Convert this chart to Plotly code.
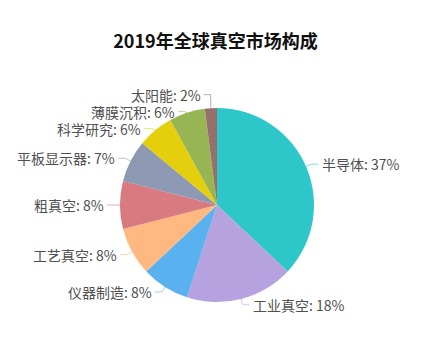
import math
import plotly.graph_objects as go

title_text = "2019年全球真空市场构成"
labels = ["半导体", "工业真空", "仪器制造", "工艺真空", "粗真空", "平板显示器", "科学研究", "薄膜沉积", "太阳能"]
values = [37, 18, 8, 8, 8, 7, 6, 6, 2]
colors = ["#2ec7c9", "#b6a2de", "#5ab1ef", "#ffb980", "#d87a80", "#8d98b3", "#e5cf0d", "#97b552", "#95706d"]

W, H = 431, 354
cx, cy, R = 217, 205, 97
len1, len2, gap, min_gap = 6, 7, 2, 17
FONT = "Noto Sans CJK SC"


def px(x):
    return x / W


def py(y):
    return 1 - y / H


fig = go.Figure(go.Pie(
    labels=labels, values=values, sort=False, direction="clockwise", rotation=0,
    marker=dict(colors=colors, line=dict(width=0)),
    textinfo="none", hoverinfo="label+percent", showlegend=False,
    domain=dict(x=[px(cx - R), px(cx + R)], y=[py(cy + R), py(cy - R)]),
))

total = sum(values)
items = []
cum = 0
for lab, v, c in zip(labels, values, colors):
    mid = (cum + v / 2) / total
    cum += v
    th = 2 * math.pi * mid
    s, co = math.sin(th), math.cos(th)
    p0 = (cx + R * s, cy - R * co)
    p1 = (cx + (R + len1) * s, cy - (R + len1) * co)
    items.append(dict(label=lab, value=v, color=c, p0=p0, p1=p1, right=s >= 0,
                      ly=p1[1], pct=round(100 * v / total)))

# simple overlap relaxation per side
for side in (True, False):
    grp = sorted([it for it in items if it["right"] == side], key=lambda d: d["ly"])
    for _ in range(300):
        moved = False
        for a, b in zip(grp, grp[1:]):
            d = b["ly"] - a["ly"]
            if d < min_gap - 1e-6:
                sh = (min_gap - d) / 2
                a["ly"] -= sh
                b["ly"] += sh
                moved = True
        if not moved:
            break

shapes = []
annotations = []
for it in items:
    x0, y0 = it["p0"]
    x1 = it["p1"][0]
    ly = it["ly"]
    x2 = x1 + (len2 if it["right"] else -len2)
    path = f"M {px(x0)},{py(y0)} L {px(x1)},{py(ly)} L {px(x2)},{py(ly)}"
    shapes.append(dict(type="path", xref="paper", yref="paper", path=path,
                       line=dict(color=it["color"], width=1), opacity=0.6))
    tx = x2 + (gap if it["right"] else -gap)
    annotations.append(dict(
        x=px(tx), y=py(ly), xref="paper", yref="paper",
        text=f"{it['label']}: {it['pct']}%", showarrow=False,
        xanchor="left" if it["right"] else "right", yanchor="middle",
        borderpad=0,
        font=dict(family=FONT, size=14, color="#505050"),
    ))

fig.update_layout(
    width=W, height=H,
    margin=dict(l=0, r=0, t=0, b=0),
    paper_bgcolor="white", plot_bgcolor="white",
    title=dict(text=f"<b>{title_text}</b>", x=0.5, xanchor="center",
               y=py(42), yanchor="middle",
               font=dict(family=FONT, size=18, color="#111111")),
    shapes=shapes, annotations=annotations,
)

fig.write_html("out.html")
